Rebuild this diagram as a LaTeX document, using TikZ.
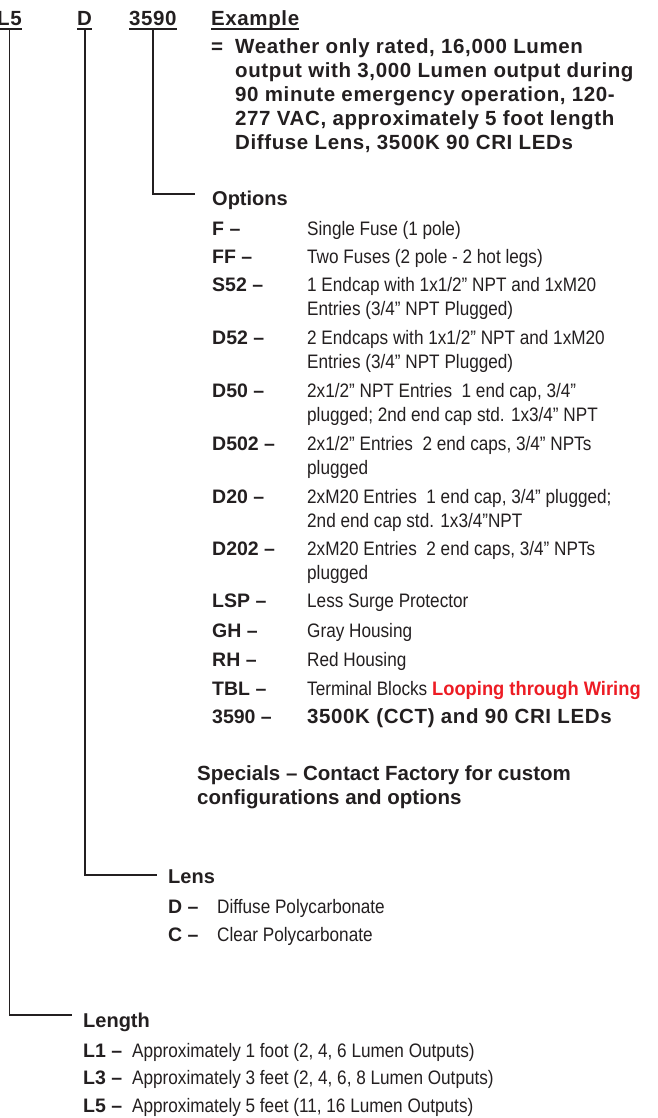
\documentclass[tikz,border=0pt]{standalone}
\usepackage{fontspec}
\setmainfont{Liberation Sans}
\newfontfamily\trackfont[LetterSpace=3]{Liberation Sans}
\newfontfamily\condfont[FakeStretch=0.88]{Liberation Sans}
\newfontfamily\redcondfont[FakeStretch=0.94]{Liberation Sans}
\usetikzlibrary{positioning}
\definecolor{ink}{HTML}{231F20}
\definecolor{flagred}{HTML}{ED1C24}
% lines stacked, base on the first one
\newcommand\stack[1]{\vtop{\halign{##\hfil\cr#1\crcr}}}

\begin{document}
\begin{tikzpicture}[x=1pt,y=1pt,on grid,
    every node/.style={inner sep=0pt,text=ink},
    code/.style={font=\trackfont\bfseries\fontsize{20.5}{24}\selectfont,text depth=0pt},
    head/.style={font=\bfseries\fontsize{20}{24}\selectfont},
    key/.style={font=\bfseries\fontsize{19.5}{24}\selectfont},
    desc/.style={font=\condfont\fontsize{19.5}{24}\selectfont},
    at base/.style={anchor=base west},
    lead/.style={draw=ink,line width=1.8pt},
    uline/.style={draw=ink,line width=1.3pt}]
  \useasboundingbox (0,0) rectangle (657,-1118);
  % code line
  \node[code,at base]  (hL5)   at (-3,-26)                          {L5};
  \node[code]  (hD)    [right=80pt of hL5.base west,at base]         {D};
  \node[code]  (h3590) [right=52pt of hD.base west,at base]          {3590};
  \node[code]  (hEx)   [right=82pt of h3590.base west,at base]       {Example};
  \draw[uline] ([yshift=-2.8pt]hL5.south west) -- ([yshift=-2.8pt]hL5.south east)
               ([yshift=-2.8pt]hD.south west) -- ([yshift=-2.8pt]hD.south east)
               ([yshift=-2.8pt]h3590.south west) -- ([yshift=-2.8pt]h3590.south east)
               ([yshift=-2.8pt]hEx.south west) -- ([yshift=-2.8pt]hEx.south east);
  \node[code]  (eqs)   [below=28pt of hEx.base west,at base]         {=};
  \node[code,text depth=] (exdesc) [right=24pt of eqs.base west,at base]
    {\stack{Weather only rated, 16,000 Lumen\cr output with 3,000 Lumen output during\cr 90 minute emergency operation, 120-\cr 277 VAC, approximately 5 foot length\cr Diffuse Lens, 3500K 90 CRI LEDs}};
  % options
  \node[head,at base]  (opts)  at (212,-205)                        {Options};
  \node[key]   (kF)    [below=30pt of opts.base west,at base]        {F –};
  \node[key]   (kFF)   [below=28pt of kF.base west,at base]          {FF –};
  \node[key]   (kS52)  [below=28pt of kFF.base west,at base]         {S52 –};
  \node[key]   (kD52)  [below=53pt of kS52.base west,at base]        {D52 –};
  \node[key]   (kD50)  [below=53pt of kD52.base west,at base]        {D50 –};
  \node[key]   (kD502) [below=53pt of kD50.base west,at base]        {D502 –};
  \node[key]   (kD20)  [below=53pt of kD502.base west,at base]       {D20 –};
  \node[key]   (kD202) [below=52pt of kD20.base west,at base]        {D202 –};
  \node[key]   (kLSP)  [below=52pt of kD202.base west,at base]       {LSP –};
  \node[key]   (kGH)   [below=30pt of kLSP.base west,at base]        {GH –};
  \node[key]   (kRH)   [below=29pt of kGH.base west,at base]         {RH –};
  \node[key]   (kTBL)  [below=29pt of kRH.base west,at base]         {TBL –};
  \node[key]   (k3590) [below=28pt of kTBL.base west,at base]        {3590 –};
  \node[desc]  (dF)    [right=95pt of kF.base west,at base]    {Single Fuse (1 pole)};
  \node[desc]  (dFF)   [right=95pt of kFF.base west,at base]   {Two Fuses (2 pole - 2 hot legs)};
  \node[desc]  (dS52)  [right=95pt of kS52.base west,at base]  {\stack{1 Endcap with 1x1/2” NPT and 1xM20\cr Entries (3/4” NPT Plugged)}};
  \node[desc]  (dD52)  [right=95pt of kD52.base west,at base]  {\stack{2 Endcaps with 1x1/2” NPT and 1xM20\cr Entries (3/4” NPT Plugged)}};
  \node[desc]  (dD50)  [right=95pt of kD50.base west,at base]  {\stack{2x1/2” NPT Entries\ \ 1 end cap, 3/4”\cr plugged; 2nd end cap std. 1x3/4” NPT}};
  \node[desc]  (dD502) [right=95pt of kD502.base west,at base] {\stack{2x1/2” Entries\ \ 2 end caps, 3/4” NPTs\cr plugged}};
  \node[desc]  (dD20)  [right=95pt of kD20.base west,at base]  {\stack{2xM20 Entries\ \ 1 end cap, 3/4” plugged;\cr 2nd end cap std. 1x3/4”NPT}};
  \node[desc]  (dD202) [right=95pt of kD202.base west,at base] {\stack{2xM20 Entries\ \ 2 end caps, 3/4” NPTs\cr plugged}};
  \node[desc]  (dLSP)  [right=95pt of kLSP.base west,at base]  {Less Surge Protector};
  \node[desc]  (dGH)   [right=95pt of kGH.base west,at base]   {Gray Housing};
  \node[desc]  (dRH)   [right=95pt of kRH.base west,at base]   {Red Housing};
  \node[desc]  (dTBL)  [right=95pt of kTBL.base west,at base]
    {Terminal Blocks {\redcondfont\bfseries\color{flagred}Looping through Wiring}};
  \node[code]  (d3590) [right=95pt of k3590.base west,at base] {3500K (CCT) and 90 CRI LEDs};
  \node[head,font=\bfseries\fontsize{20.5}{24}\selectfont] (specials)
    [below=57pt of k3590.base west,xshift=-15pt,at base]
    {\stack{Specials – Contact Factory for custom\cr configurations and options}};
  % lens
  \node[head,at base]  (lens)  at (168,-883)                        {Lens};
  \node[key]   (kD)    [below=30pt of lens.base west,at base]        {D –};
  \node[key]   (kC)    [below=28pt of kD.base west,at base]          {C –};
  \node[desc]  (dD)    [right=49pt of kD.base west,at base]    {Diffuse Polycarbonate};
  \node[desc]  (dC)    [right=49pt of kC.base west,at base]    {Clear Polycarbonate};
  % length
  \node[head,at base]  (len)   at (83,-1027)                        {Length};
  \node[key]   (kL1)   [below=30pt of len.base west,at base]         {L1 –};
  \node[key]   (kL3)   [below=27pt of kL1.base west,at base]         {L3 –};
  \node[key]   (kL5)   [below=28pt of kL3.base west,at base]         {L5 –};
  \node[desc]  (dL1)   [right=49pt of kL1.base west,at base]   {Approximately 1 foot (2, 4, 6 Lumen Outputs)};
  \node[desc]  (dL3)   [right=49pt of kL3.base west,at base]   {Approximately 3 feet (2, 4, 6, 8 Lumen Outputs)};
  \node[desc]  (dL5)   [right=49pt of kL5.base west,at base]   {Approximately 5 feet (11, 16 Lumen Outputs)};
  % leads
  \draw[lead] ([yshift=-2pt]h3590.south) |- ([xshift=-17pt,yshift=11pt]opts.base west);
  \draw[lead] ([yshift=-2pt]hD.south) |- ([xshift=-11pt,yshift=8pt]lens.base west);
  \draw[lead] ([yshift=-2pt]hL5.south) |- ([xshift=-11pt,yshift=12pt]len.base west);
\end{tikzpicture}
\end{document}
